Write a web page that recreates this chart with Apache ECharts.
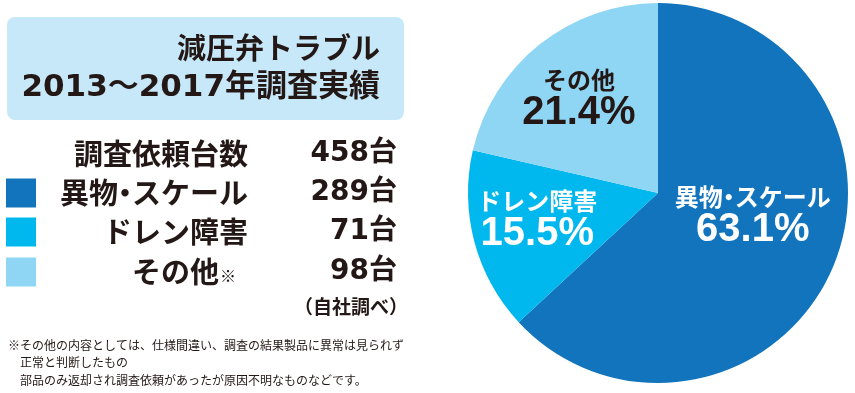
<!DOCTYPE html>
<html><head><meta charset="utf-8">
<script src="https://cdn.jsdelivr.net/npm/echarts@6/dist/echarts.min.js"></script>
<style>html,body{margin:0;padding:0;background:#fff}#c{width:855px;height:393px}</style>
</head><body><div id="c"></div>
<script>
// ---- data ----
const titleLines = ['減圧弁トラブル', '2013～2017年調査実績'];
const totalLabel = '調査依頼台数';
const totalCount = 458;
const categories = ['異物・スケール', 'ドレン障害', 'その他'];
const counts = [289, 71, 98];
const unit = '台';
const noteMark = '※';
const noteMarkIndex = 2;
const sourceNote = '（自社調べ）';
const footnoteLines = [
  '※その他の内容としては、仕様間違い、調査の結果製品に異常は見られず',
  '正常と判断したもの',
  '部品のみ返却され調査依頼があったが原因不明なものなどです。'
];

// ---- styles ----
const sliceColors = ['#1174BC', '#00B8EE', '#8FD6F5'];
const labelColors = ['#ffffff', '#ffffff', '#231815'];
const labelOffsets = [[5, -16], [-26, 2], [-18, -17.5]];
const ink = '#231815';
const cjkFam = "'Noto Sans CJK JP', sans-serif";
const latinFam = "'DejaVu Sans', 'Noto Sans CJK JP', sans-serif";

// split a name so that the middle dot gets a narrow box
function richName(name, key, dotKey) {
  return name.split('・').map(s => s ? '{' + key + '|' + s + '}' : '').join('{' + dotKey + '|・}');
}

function txt(x, y, text, font, align, rich) {
  const st = { text: text, fill: ink, font: font, textAlign: align, align: align,
               textVerticalAlign: 'middle', verticalAlign: 'middle' };
  if (rich) st.rich = rich;
  return { type: 'text', x: x, y: y, silent: true, style: st };
}

const legendRich = {
  a: { fontFamily: cjkFam, fontSize: 29, fontWeight: 'bold', font: 'bold 29px ' + cjkFam, align: 'center', fill: ink },
  d: { fontFamily: cjkFam, fontSize: 29, fontWeight: 'bold', font: 'bold 29px ' + cjkFam, align: 'center', width: 14, fill: ink }
};

const graphic = [];
graphic.push({ type: 'rect', silent: true, shape: { x: 7, y: 17, width: 397, height: 103, r: 8 }, style: { fill: '#C7E8F9' } });
graphic.push(txt(380, 51, titleLines[0], 'bold 29px ' + latinFam, 'right'));
graphic.push(txt(380, 88, titleLines[1], 'bold 31px ' + latinFam, 'right'));

const rowY = [153.5, 193, 232, 272];
graphic.push(txt(248, rowY[0], totalLabel, 'bold 29px ' + cjkFam, 'right'));
graphic.push(txt(397, rowY[0], totalCount + unit, 'bold 28px ' + latinFam, 'right'));
categories.forEach((c, i) => {
  const y = rowY[i + 1];
  graphic.push({ type: 'rect', silent: true, shape: { x: 6, y: y - 14.5, width: 30, height: 29 }, style: { fill: sliceColors[i] } });
  if (i === noteMarkIndex) {
    graphic.push(txt(219, y, c, 'bold 29px ' + cjkFam, 'right'));
    graphic.push(txt(220, y + 4, noteMark, '16px ' + cjkFam, 'left'));
  } else {
    graphic.push(txt(248, y, richName(c, 'a', 'd'), 'bold 29px ' + cjkFam, 'right', legendRich));
  }
  graphic.push(txt(397, y, counts[i] + unit, 'bold 28px ' + latinFam, 'right'));
});
graphic.push(txt(408, 307, sourceNote, 'bold 19px ' + cjkFam, 'right'));
const footX = [8, 20, 20], footY = [345, 362, 380];
footnoteLines.forEach((t, i) => graphic.push(txt(footX[i], footY[i], t, '12px ' + cjkFam, 'left')));

const chart = echarts.init(document.getElementById('c'), null, { renderer: 'canvas' });
chart.setOption({
  animation: false,
  graphic: graphic,
  series: [{
    type: 'pie',
    center: [658, 193],
    radius: 190,
    startAngle: 90,
    clockwise: true,
    percentPrecision: 1,
    silent: true,
    itemStyle: { borderWidth: 0 },
    labelLine: { show: false },
    label: {
      show: true,
      position: 'inside',
      formatter: p => richName(p.name, 'n', 'nd') + '\n{p|' + p.percent.toFixed(1) + '%}',
      rich: {
        n: { fontFamily: cjkFam, fontWeight: 'bold', fontSize: 24, lineHeight: 28, align: 'center' },
        nd: { fontFamily: cjkFam, fontWeight: 'bold', fontSize: 24, lineHeight: 28, align: 'center', width: 12 },
        p: { fontFamily: "'Liberation Sans', sans-serif", fontWeight: 'bold', fontSize: 40, lineHeight: 38, align: 'center' }
      }
    },
    labelLayout: p => ({ dx: labelOffsets[p.dataIndex][0], dy: labelOffsets[p.dataIndex][1] }),
    data: categories.map((c, i) => ({
      name: c, value: counts[i],
      itemStyle: { color: sliceColors[i] },
      label: { color: labelColors[i] }
    }))
  }]
});
</script></body></html>
